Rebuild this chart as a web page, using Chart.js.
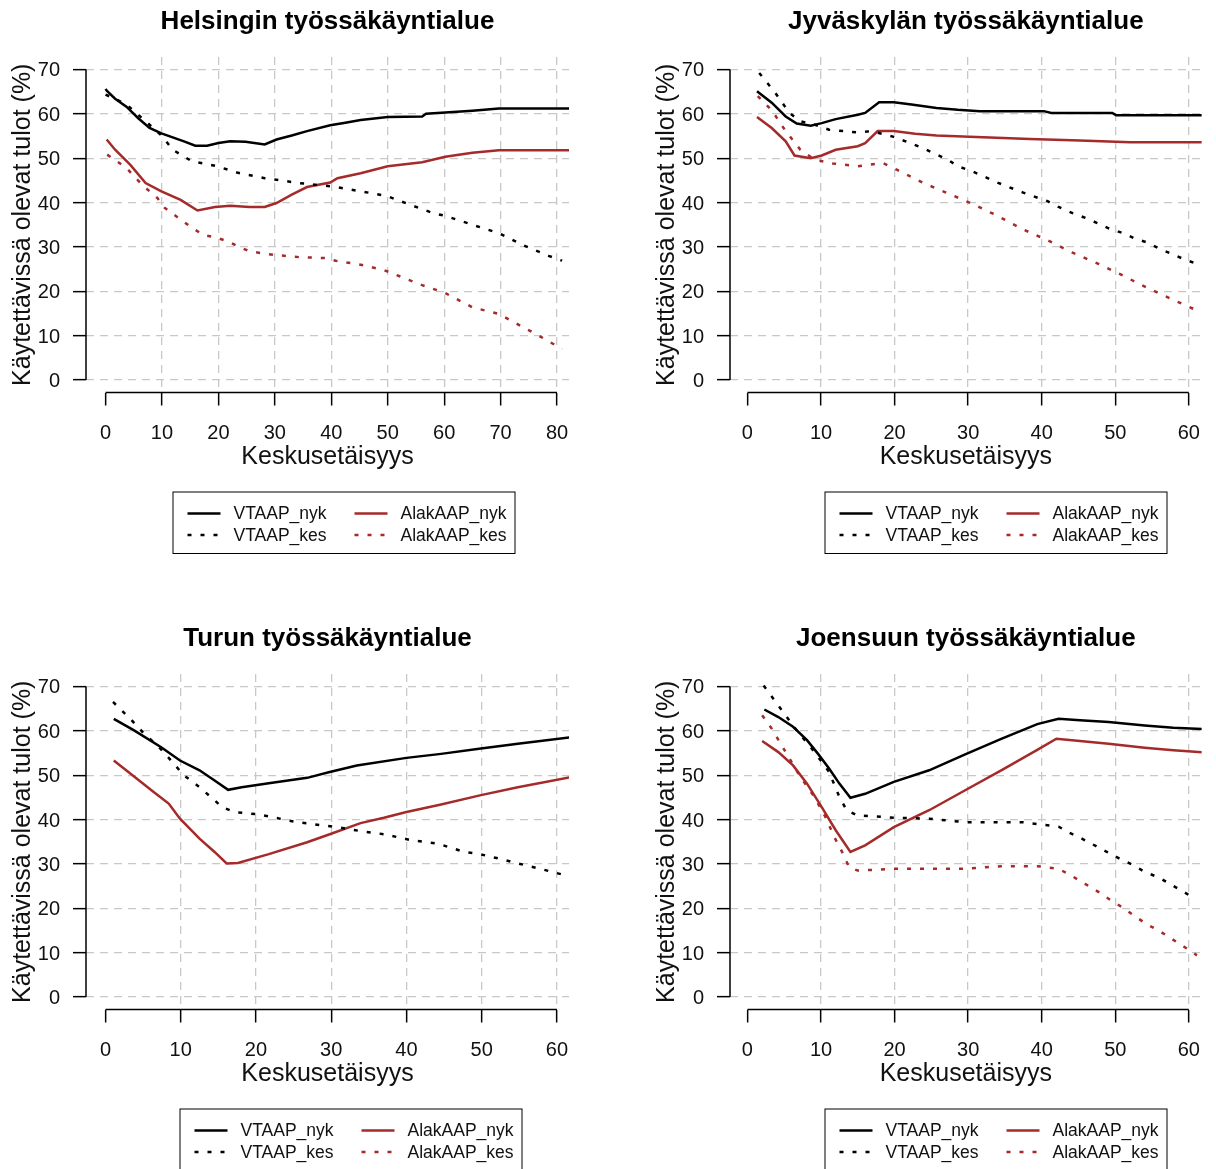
<!DOCTYPE html>
<html>
<head>
<meta charset="utf-8">
<script src="https://cdn.jsdelivr.net/npm/chart.js@4.4.1/dist/chart.umd.min.js"></script>
<style>
    html, body { margin: 0; padding: 0; background: #fff; }
    #wrap { position: relative; width: 1216px; height: 1169px; overflow: hidden; }
    #wrap canvas { position: absolute; }
</style>
</head>
<body>
<div id="wrap">
    <canvas id="c1" width="608" height="617" style="left:0;top:0"></canvas>
    <canvas id="c2" width="608" height="617" style="left:608px;top:0"></canvas>
    <canvas id="c3" width="608" height="552" style="left:0;top:617px"></canvas>
    <canvas id="c4" width="608" height="552" style="left:608px;top:617px"></canvas>
</div>
<script>
// tick labels
const yTicks = [0, 10, 20, 30, 40, 50, 60, 70];
const xTicks80 = [0, 10, 20, 30, 40, 50, 60, 70, 80];
const xTicks60 = [0, 10, 20, 30, 40, 50, 60];

const seriesNames = ['VTAAP_nyk', 'VTAAP_kes', 'AlakAAP_nyk', 'AlakAAP_kes'];

// Helsinki [distance, %]
const hkiVtaapNyk = [[0,65.6],[0.3,65.1],[1.7,63.4],[3.7,61.6],[5.8,59.0],[7.8,56.8],[9.9,55.6],[11.9,54.7],[13.9,53.8],[15.9,52.8],[18,52.8],[20,53.4],[22.1,53.8],[24.8,53.7],[28.2,53.1],[30.3,54.2],[33,55.1],[35.7,56.1],[39.8,57.4],[42.5,58],[45.2,58.6],[50,59.3],[56.1,59.4],[56.8,60.0],[60.2,60.3],[65,60.7],[69.7,61.2],[83,61.2]];
const hkiVtaapKes = [[0,64.3],[1.5,63.5],[3.7,62.1],[6.5,59],[8.8,56.4],[10,55],[11.9,51.9],[15.3,49.3],[19.7,48.2],[23.5,46.7],[28.2,45.5],[34.3,44.4],[40.4,43.6],[47.2,42.1],[50,41.4],[54,39.5],[58.1,37.6],[60.2,37],[65,35],[69.7,33.1],[73.8,30.5],[78.5,28],[80.9,26.9]];
const hkiAlakNyk = [[0.2,54.2],[1.7,51.9],[4.4,48.5],[7.1,44.4],[9.9,42.5],[13.3,40.6],[16.3,38.2],[19.4,39],[22.1,39.3],[25.5,39],[28.2,39],[30.3,39.9],[33,41.8],[35.7,43.5],[39.8,44.5],[41.1,45.5],[45.2,46.6],[50,48.2],[56.1,49.1],[60.2,50.3],[65,51.2],[69.7,51.8],[83,51.8]];
const hkiAlakKes = [[0.3,50.8],[3.7,47.8],[6.5,44],[9.2,41],[10.5,38.8],[15,34.6],[17.3,32.7],[19.4,32.2],[21.8,31.2],[23.5,30.1],[25.5,29],[29.9,28.2],[34.3,27.7],[38.7,27.5],[40.8,26.9],[45.2,26],[49.3,24.8],[53.7,22.6],[56.1,21.4],[60.2,19.6],[65,16.4],[69.7,14.9],[71.7,13.5],[76.5,10.2],[80.9,7]];

// Jyväskylä
const jklVtaapNyk = [[1.3,65.1],[3.3,62.5],[5.2,59.4],[6.7,57.8],[8.6,57.3],[10.1,57.9],[12,58.8],[15,59.8],[16,60.2],[17.9,62.6],[19.9,62.6],[22.3,62.1],[25.7,61.3],[28.6,60.9],[31.6,60.6],[40.3,60.6],[41.3,60.2],[49.6,60.2],[50.1,59.7],[63,59.7]];
const jklVtaapKes = [[1.6,69.2],[3.8,64.7],[5.7,60.2],[7.2,58.3],[9.1,57.6],[11.1,56.4],[15,55.8],[16.9,56.1],[19.9,54.8],[21.8,53.6],[23.8,52.3],[25.2,51.2],[27.2,49.7],[28.6,48.2],[30.6,47],[32,46],[34,44.5],[35.5,43.5],[37.4,42.3],[38.9,41.4],[40.8,40.3],[42.3,39],[44.2,37.6],[45.7,36.7],[47.4,35.5],[49.1,34.2],[51.1,33.1],[52.5,32],[54.5,30.9],[55.9,29.7],[57.7,28.4],[59.4,27.2],[61.1,26.2]];
const jklAlakNyk = [[1.3,59.3],[3.3,56.8],[5.2,53.8],[6.4,50.6],[8.6,50],[10.1,50.6],[12,51.9],[15,52.7],[16,53.4],[17.7,56.1],[19.9,56.1],[22.8,55.5],[25.7,55.1],[31.1,54.8],[38.4,54.3],[45.2,54],[52,53.6],[63,53.6]];
const jklAlakKes = [[1.4,64],[3.3,60.8],[5.2,56.1],[7.2,51.9],[9.1,49.7],[11.6,48.8],[15,48.2],[18.4,48.9],[20.3,47.4],[22,46],[23.8,44.5],[27.2,42.1],[30.6,39.7],[34,37],[37.4,34],[40.8,31.5],[44.2,28.7],[47.7,26.2],[51.1,23.5],[54.2,20.9],[57.7,18.2],[61.1,15.7]];

// Turku
const tkuVtaapNyk = [[1.1,62.7],[3.8,60.1],[7.4,56.3],[9.9,53.3],[12.5,51.1],[14.5,48.8],[16.3,46.7],[18.1,47.3],[21.7,48.2],[26.8,49.4],[29.8,50.7],[33.4,52.2],[40,53.9],[44.6,54.8],[49.9,56],[54.8,57.1],[62,58.6]];
const tkuVtaapKes = [[1,66.5],[3.3,62.7],[5.1,59.4],[6.9,56.7],[8.4,53.9],[10.4,50],[12.2,47.7],[14,45.1],[15.5,42.8],[17.1,41.7],[20.1,41.2],[21.7,40.7],[25.2,39.5],[28.8,38.7],[30.8,38.3],[33.9,37.4],[37,36.7],[40.8,35.3],[44.1,34.6],[47.7,32.7],[49.5,32.3],[52.8,31],[54.6,30.2],[57.8,28.9],[61.2,27.4]];
const tkuAlakNyk = [[1.1,53.3],[3.8,49.7],[6.4,46.2],[8.4,43.6],[9.9,40.2],[12.5,35.7],[14.5,32.7],[16.1,30.1],[17.6,30.2],[21.7,32.2],[26.8,34.9],[29.8,36.7],[33.9,39.2],[37,40.4],[40,41.7],[44.6,43.4],[49.9,45.5],[54.8,47.3],[62,49.6]];
const tkuAlakKes = [];

// Joensuu
const joeVtaapNyk = [[2.3,64.8],[4.2,63.1],[6.2,60.9],[8.1,57.9],[9.6,54.8],[11.1,51.5],[12.5,48.1],[14,44.9],[16,45.8],[19.9,48.5],[24.7,51.1],[29.6,54.7],[34.5,58.2],[39.4,61.5],[42.3,62.7],[45.2,62.4],[49.1,62],[54,61.2],[57.9,60.7],[63,60.3]];
const joeVtaapKes = [[2.2,70.2],[4.2,65.7],[6.7,60.1],[8.6,56.3],[10.1,53],[11.1,50.7],[12.5,45.1],[13.5,42.1],[15,40.9],[17.4,40.7],[19.9,40.4],[24.7,40.2],[29.6,39.4],[37.4,39.4],[40.3,38.8],[42.3,38.4],[43.8,37],[45.7,35.5],[47.4,34],[49.1,32.5],[50.6,31.2],[52.5,29.7],[54,28.2],[56,26.9],[57.4,25.5],[59.1,23.9],[60.8,22.2]];
const joeAlakNyk = [[2,57.7],[4.2,55.2],[6.2,52.2],[8.1,48.1],[10.1,42.8],[12,37.6],[14,32.7],[16,34.2],[19.9,38.3],[24.7,42.1],[29.6,46.6],[34.5,51.1],[39.4,55.7],[42,58.2],[45.2,57.7],[49.1,57.1],[54,56.2],[57.9,55.6],[63,55]];
const joeAlakKes = [[2,63.5],[3.3,60.5],[5.2,55.2],[7.2,49.6],[9.1,45.1],[10.6,40.6],[11.8,36.1],[13,32.3],[13.8,29.3],[15,28.5],[19.9,28.9],[29.6,28.9],[34.5,29.5],[39.4,29.5],[42.3,28.9],[44.2,27.2],[45.9,25.5],[47.7,23.7],[49.4,21.8],[51.1,20.1],[52.5,18.4],[54.2,16.5],[56,14.9],[57.7,13.1],[59.4,11.3],[61.1,9.4]];

const FONT = '"Liberation Sans", Arial, Helvetica, sans-serif';
const BLACK = '#000000';
const RED = '#a52a2a';
const GRID = '#c8c8c8';
const DOTS = [4, 9];

Chart.defaults.font.family = FONT;
Chart.defaults.color = '#000';

// R-style axis lines, panel title and boxed legend
const rStyle = {
    id: 'rStyle',
    afterDraw(chart, args, opts) {
        const { ctx, chartArea: a, scales: { x, y } } = chart;
        ctx.save();
        ctx.strokeStyle = '#000';
        ctx.lineWidth = 1.5;
        ctx.setLineDash([]);
        ctx.beginPath();
        ctx.moveTo(a.left, y.getPixelForValue(yTicks[0]));
        ctx.lineTo(a.left, y.getPixelForValue(yTicks[yTicks.length - 1]));
        ctx.moveTo(x.getPixelForValue(opts.xTicks[0]), a.bottom);
        ctx.lineTo(x.getPixelForValue(opts.xTicks[opts.xTicks.length - 1]), a.bottom);
        ctx.stroke();

        ctx.fillStyle = '#000';
        ctx.font = 'bold 26px ' + FONT;
        ctx.textAlign = 'center';
        ctx.textBaseline = 'middle';
        ctx.fillText(opts.title, (a.left + a.right) / 2, 22);

        const L = opts.legend;
        ctx.lineWidth = 1;
        ctx.strokeRect(L.x + 0.5, L.y + 0.5, 342, 61.5);
        ctx.font = '17.5px ' + FONT;
        ctx.textAlign = 'left';
        chart.data.datasets.forEach((ds, i) => {
            const col = Math.floor(i / 2), row = i % 2;
            const ly = L.y + 22 + row * 21.5;
            const lx = L.x + (col ? 182 : 15);
            ctx.beginPath();
            ctx.setLineDash(ds.borderDash);
            ctx.strokeStyle = ds.borderColor;
            ctx.lineWidth = ds.borderWidth;
            ctx.moveTo(lx, ly);
            ctx.lineTo(lx + 33, ly);
            ctx.stroke();
            ctx.setLineDash([]);
            ctx.fillStyle = '#111';
            ctx.fillText(ds.label, L.x + (col ? 228 : 61), ly + 1);
        });
        ctx.restore();
    }
};

function line(label, pts, color, dotted) {
    return {
        label,
        data: pts.map(([x, y]) => ({ x, y })),
        borderColor: color,
        backgroundColor: color,
        borderWidth: 2.5,
        borderDash: dotted ? DOTS : [],
        pointRadius: 0,
        tension: 0,
        fill: false,
    };
}

function makePanel(id, title, series, xMin, xMax, xTicks, padLeft, padRight, padBottom, legendX) {
    const datasets = [
        line(seriesNames[0], series[0], BLACK, false),
        line(seriesNames[1], series[1], BLACK, true),
        line(seriesNames[2], series[2], RED, false),
        line(seriesNames[3], series[3], RED, true),
    ];
    return new Chart(document.getElementById(id), {
        type: 'line',
        data: { datasets },
        options: {
            responsive: false,
            animation: false,
            events: [],
            layout: { padding: { left: padLeft, right: padRight, top: 57, bottom: padBottom } },
            plugins: {
                legend: { display: false },
                tooltip: { enabled: false },
                rStyle: { title, xTicks, legend: { x: legendX, y: 491.5 } },
            },
            scales: {
                x: {
                    type: 'linear',
                    min: xMin,
                    max: xMax,
                    afterBuildTicks: s => { s.ticks = xTicks.map(v => ({ value: v })); },
                    afterFit: s => { s.height = 87.5; },
                    border: { display: false, dash: [8, 6] },
                    grid: {
                        color: c => (c.tick && c.tick.value === 0) ? 'rgba(0,0,0,0)' : GRID,
                        lineWidth: 1.3,
                        tickLength: 13,
                        tickColor: '#000',
                        tickWidth: 1.5,
                    },
                    ticks: { font: { size: 20 }, color: '#111', padding: 16, maxRotation: 0, autoSkip: false },
                    title: {
                        display: true,
                        text: 'Keskusetäisyys',
                        font: { size: 25 },
                        color: '#111',
                        padding: { top: 0, bottom: 8 },
                    },
                },
                y: {
                    min: -2.8,
                    max: 72.8,
                    afterBuildTicks: s => { s.ticks = yTicks.map(v => ({ value: v })); },
                    afterFit: s => { s.width = 86; },
                    border: { display: false, dash: [8, 6] },
                    grid: {
                        color: GRID,
                        lineWidth: 1.3,
                        tickLength: 13,
                        tickColor: '#000',
                        tickWidth: 1.5,
                    },
                    ticks: { font: { size: 20 }, color: '#111', padding: 13, labelOffset: 1.5 },
                    title: {
                        display: true,
                        text: 'Käytettävissä olevat tulot (%)',
                        font: { size: 25, lineHeight: 1.2 },
                        color: '#111',
                        padding: { top: 8, bottom: 0 },
                    },
                },
            },
        },
        plugins: [rStyle],
    });
}

makePanel('c1', 'Helsingin työssäkäyntialue', [hkiVtaapNyk, hkiVtaapKes, hkiAlakNyk, hkiAlakKes],
    -3.46, 82.12, xTicks80, 0, 39, 137, 172.5);
makePanel('c2', 'Jyväskylän työssäkäyntialue', [jklVtaapNyk, jklVtaapKes, jklAlakNyk, jklAlakKes],
    -2.37, 61.74, xTicks60, 36, 2, 137, 216.5);
makePanel('c3', 'Turun työssäkäyntialue', [tkuVtaapNyk, tkuVtaapKes, tkuAlakNyk, tkuAlakKes],
    -2.59, 61.6, xTicks60, 0, 39, 72, 179.5);
makePanel('c4', 'Joensuun työssäkäyntialue', [joeVtaapNyk, joeVtaapKes, joeAlakNyk, joeAlakKes],
    -2.37, 61.74, xTicks60, 36, 2, 72, 216.5);
</script>
</body>
</html>
